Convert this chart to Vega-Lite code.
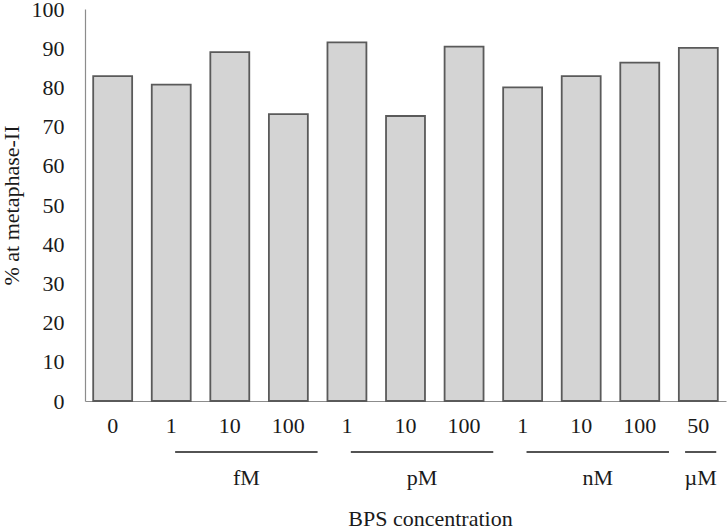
{
  "$schema": "https://vega.github.io/schema/vega-lite/v6.json",
  "width": 641,
  "height": 392,
  "autosize": {"type": "none"},
  "padding": {"left": 85, "top": 9, "right": 2, "bottom": 128},
  "config": {
    "view": {"stroke": null},
    "font": "Liberation Serif",
    "background": "white",
    "axis": {"labelFont": "Liberation Serif", "titleFont": "Liberation Serif"},
    "text": {"font": "Liberation Serif"}
  },
  "resolve": {"axis": {"x": "independent", "y": "independent"}, "scale": {"x": "shared", "y": "shared"}},
  "datasets": {
    "bars": [
      {"id": "0", "pct": 82.9},
      {"id": "1 fM", "pct": 80.7},
      {"id": "10 fM", "pct": 89.0},
      {"id": "100 fM", "pct": 73.2},
      {"id": "1 pM", "pct": 91.5},
      {"id": "10 pM", "pct": 72.7},
      {"id": "100 pM", "pct": 90.4},
      {"id": "1 nM", "pct": 80.0},
      {"id": "10 nM", "pct": 82.9},
      {"id": "100 nM", "pct": 86.3},
      {"id": "50 µM", "pct": 90.1}
    ],
    "groups": [
      {"unit": "fM", "first": "1 fM", "mid": "10 fM", "last": "100 fM"},
      {"unit": "pM", "first": "1 pM", "mid": "10 pM", "last": "100 pM"},
      {"unit": "nM", "first": "1 nM", "mid": "10 nM", "last": "100 nM"},
      {"unit": "µM", "first": "50 µM", "mid": "50 µM", "last": "50 µM"}
    ]
  },
  "layer": [
    {
      "data": {"name": "bars"},
      "mark": {"type": "bar", "fill": "#d4d4d4", "stroke": "#5a5a5a", "strokeWidth": 1.8},
      "encoding": {
        "x": {
          "field": "id", "type": "nominal", "sort": null,
          "scale": {
            "domain": ["0", "1 fM", "10 fM", "100 fM", "1 pM", "10 pM", "100 pM", "1 nM", "10 nM", "100 nM", "50 µM"],
            "paddingInner": 0.335, "paddingOuter": 0.14
          },
          "axis": {
            "labelExpr": "split(datum.label, ' ')[0]",
            "labelAngle": 0, "labelFont": "Liberation Serif", "labelFontSize": 22, "labelColor": "#1a1a1a", "labelPadding": 14,
            "labelOverlap": false,
            "ticks": false, "domainColor": "#8c8c8c", "domainWidth": 1.2,
            "title": "BPS concentration", "titleFont": "Liberation Serif", "titleFontSize": 22, "titleFontWeight": "normal", "titleColor": "#1a1a1a",
            "titleX": 345, "titleY": 117, "titleAlign": "center", "titleBaseline": "middle"
          }
        },
        "y": {
          "field": "pct", "type": "quantitative",
          "scale": {"domain": [0, 100]},
          "axis": {
            "values": [0, 10, 20, 30, 40, 50, 60, 70, 80, 90, 100],
            "labelOverlap": false,
            "grid": false, "ticks": false, "domainColor": "#8c8c8c", "domainWidth": 1.2,
            "labelFont": "Liberation Serif", "labelFontSize": 22, "labelColor": "#1a1a1a", "labelPadding": 21,
            "title": "% at metaphase-II", "titleFont": "Liberation Serif", "titleFontSize": 22, "titleFontWeight": "normal", "titleColor": "#1a1a1a",
            "titlePadding": 8
          }
        }
      }
    },
    {
      "data": {"name": "groups"},
      "transform": [{"filter": "datum.unit != 'µM'"}],
      "mark": {"type": "rule", "color": "#1a1a1a", "strokeWidth": 1.5, "yOffset": 51},
      "encoding": {
        "x": {"field": "first", "type": "nominal", "bandPosition": 0.6, "axis": null},
        "x2": {"field": "last", "bandPosition": 1.25},
        "y": {"datum": 0, "type": "quantitative", "axis": null}
      }
    },
    {
      "data": {"name": "groups"},
      "transform": [{"filter": "datum.unit == 'µM'"}],
      "mark": {"type": "rule", "color": "#1a1a1a", "strokeWidth": 1.5, "yOffset": 51},
      "encoding": {
        "x": {"field": "first", "type": "nominal", "bandPosition": 0.16, "axis": null},
        "x2": {"field": "last", "bandPosition": 0.96},
        "y": {"datum": 0, "type": "quantitative", "axis": null}
      }
    },
    {
      "data": {"name": "groups"},
      "transform": [{"filter": "datum.unit != 'µM'"}],
      "mark": {"type": "text", "font": "Liberation Serif", "fontSize": 22, "color": "#1a1a1a", "baseline": "middle", "align": "center", "yOffset": 77},
      "encoding": {
        "x": {"field": "mid", "type": "nominal", "bandPosition": 0.925, "axis": null},
        "y": {"datum": 0, "type": "quantitative", "axis": null},
        "text": {"field": "unit"}
      }
    },
    {
      "data": {"name": "groups"},
      "transform": [{"filter": "datum.unit == 'µM'"}],
      "mark": {"type": "text", "font": "Liberation Serif", "fontSize": 22, "color": "#1a1a1a", "baseline": "middle", "align": "center", "yOffset": 77},
      "encoding": {
        "x": {"field": "mid", "type": "nominal", "bandPosition": 0.56, "axis": null},
        "y": {"datum": 0, "type": "quantitative", "axis": null},
        "text": {"field": "unit"}
      }
    }
  ]
}
